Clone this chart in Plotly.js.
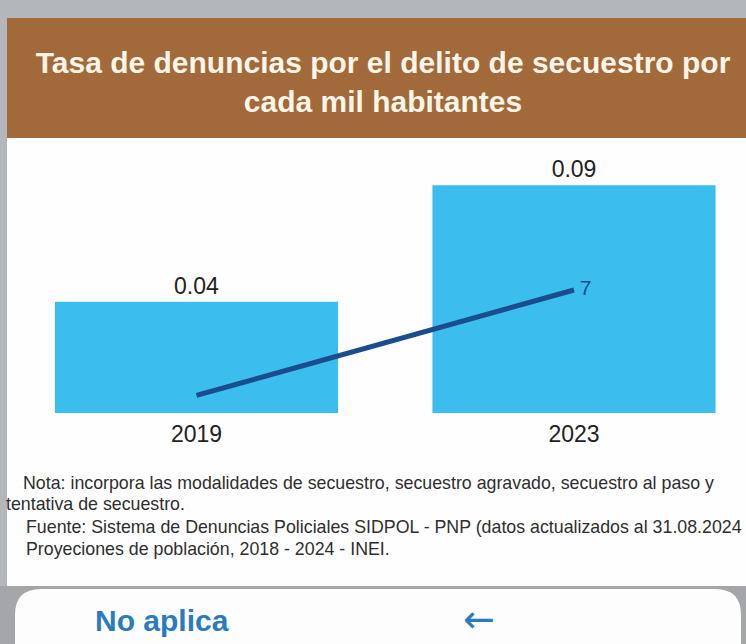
<!DOCTYPE html>
<html>
<head>
<meta charset="utf-8">
<script src="https://cdn.plot.ly/plotly-3.0.1.min.js"></script>
<style>html,body{margin:0;padding:0;background:#b3b6bb;}#chart{width:746px;height:644px;}</style>
</head>
<body>
<div id="chart"></div>
<script>
// ---- data ----
const years = ['2019', '2023'];
const rateValues = [0.044, 0.09];          // tasa por cada mil habitantes
const countValues = [1, 7];                // número de denuncias (línea)
const countLabels = ['', ' 7'];
const chartTitle = 'Tasa de denuncias por el delito de secuestro por<br>cada mil habitantes';
const noteLines = [
  'Nota: incorpora las modalidades de secuestro, secuestro agravado, secuestro al paso y',
  'tentativa de secuestro.',
  'Fuente: Sistema de Denuncias Policiales SIDPOL - PNP (datos actualizados al 31.08.2024',
  'Proyeciones de población, 2018 - 2024 - INEI.'
];
const buttonText = 'No aplica';
const arrowText = '←';

// ---- layout helpers ----
const W = 746, H = 644;
const M = {l: 20, r: 20, t: 160, b: 231};
const PW = W - M.l - M.r, PH = H - M.t - M.b;
const px = x => (x - M.l) / PW;
const py = y => (H - M.b - y) / PH;
const FONT = 'Liberation Sans, Arial, sans-serif';

const bars = {
  type: 'bar', x: years, y: rateValues, width: 0.75,
  marker: {color: '#3bbdee'},
  text: rateValues.map(v => v.toFixed(2)), textposition: 'outside',
  textfont: {family: FONT, size: 23, color: '#222222'},
  cliponaxis: false, hoverinfo: 'skip'
};
const line = {
  type: 'scatter', mode: 'lines+text', x: years, y: countValues, yaxis: 'y2',
  line: {color: '#1a4c8e', width: 5},
  text: countLabels, textposition: 'middle right',
  textfont: {family: FONT, size: 21, color: '#1a4c8e'},
  cliponaxis: false, hoverinfo: 'skip'
};

function roundRect(x0, y0, x1, y1, r) {
  const X0 = px(x0), X1 = px(x1), Y0 = py(y0), Y1 = py(y1);
  const rx = r / PW, ry = r / PH;
  return `M ${X0 + rx} ${Y0} L ${X1 - rx} ${Y0} Q ${X1} ${Y0} ${X1} ${Y0 - ry} L ${X1} ${Y1} L ${X0} ${Y1} L ${X0} ${Y0 - ry} Q ${X0} ${Y0} ${X0 + rx} ${Y0} Z`;
}

const shapes = [
  {type: 'rect', xref: 'paper', yref: 'paper', x0: px(0), x1: px(W), y0: py(586), y1: py(H), fillcolor: '#a4a6aa', line: {width: 0}, layer: 'below'},
  {type: 'rect', xref: 'paper', yref: 'paper', x0: px(7), x1: px(W), y0: py(18), y1: py(138), fillcolor: '#a2693b', line: {width: 0}, layer: 'below'},
  {type: 'rect', xref: 'paper', yref: 'paper', x0: px(7), x1: px(W), y0: py(138), y1: py(586), fillcolor: '#fefefe', line: {width: 0}, layer: 'below'},
  {type: 'path', xref: 'paper', yref: 'paper', path: roundRect(15, 589, 741, H + 2, 26), fillcolor: '#fdfdfd', line: {width: 0}, layer: 'below'}
];

const annotations = [
  {text: noteLines[0], x: px(21), y: py(483)},
  {text: noteLines[1], x: px(4), y: py(504)},
  {text: noteLines[2], x: px(24), y: py(527)},
  {text: noteLines[3], x: px(24), y: py(549)}
].map(a => Object.assign(a, {xref: 'paper', yref: 'paper', xanchor: 'left', yanchor: 'middle', showarrow: false,
  font: {family: FONT, size: 17.8, color: '#2e2e2e'}}));
annotations.push({text: '<b>' + buttonText + '</b>', x: px(93), y: py(620), xref: 'paper', yref: 'paper', xanchor: 'left', yanchor: 'middle', showarrow: false,
  font: {family: FONT, size: 30, color: '#2b7bbf'}});
annotations.push({text: arrowText, x: px(479), y: py(619), xref: 'paper', yref: 'paper', xanchor: 'center', yanchor: 'middle', showarrow: false,
  font: {family: 'DejaVu Sans, sans-serif', size: 38, color: '#2b7bbf'}});

const layout = {
  width: W, height: H, margin: M,
  paper_bgcolor: '#b3b6bb', plot_bgcolor: 'rgba(0,0,0,0)',
  showlegend: false,
  title: {text: chartTitle, x: 383 / W, xanchor: 'center', y: 1 - 73 / H, yanchor: 'middle',
    font: {family: FONT, size: 30, color: '#fdf5e8', weight: 'bold'}},
  xaxis: {type: 'category', range: [-(196.5 - M.l) / 377.5, 1 + (W - M.r - 574) / 377.5],
    showgrid: false, zeroline: false, showline: false, ticks: '', ticklabelstandoff: 5,
    tickfont: {family: FONT, size: 23, color: '#222222'}, fixedrange: true},
  yaxis: {range: [0, 0.1], visible: false, fixedrange: true},
  yaxis2: {range: [0, 14.4], overlaying: 'y', visible: false, fixedrange: true},
  shapes: shapes, annotations: annotations
};

Plotly.newPlot('chart', [bars, line], layout, {displayModeBar: false, staticPlot: true});
</script>
</body>
</html>
